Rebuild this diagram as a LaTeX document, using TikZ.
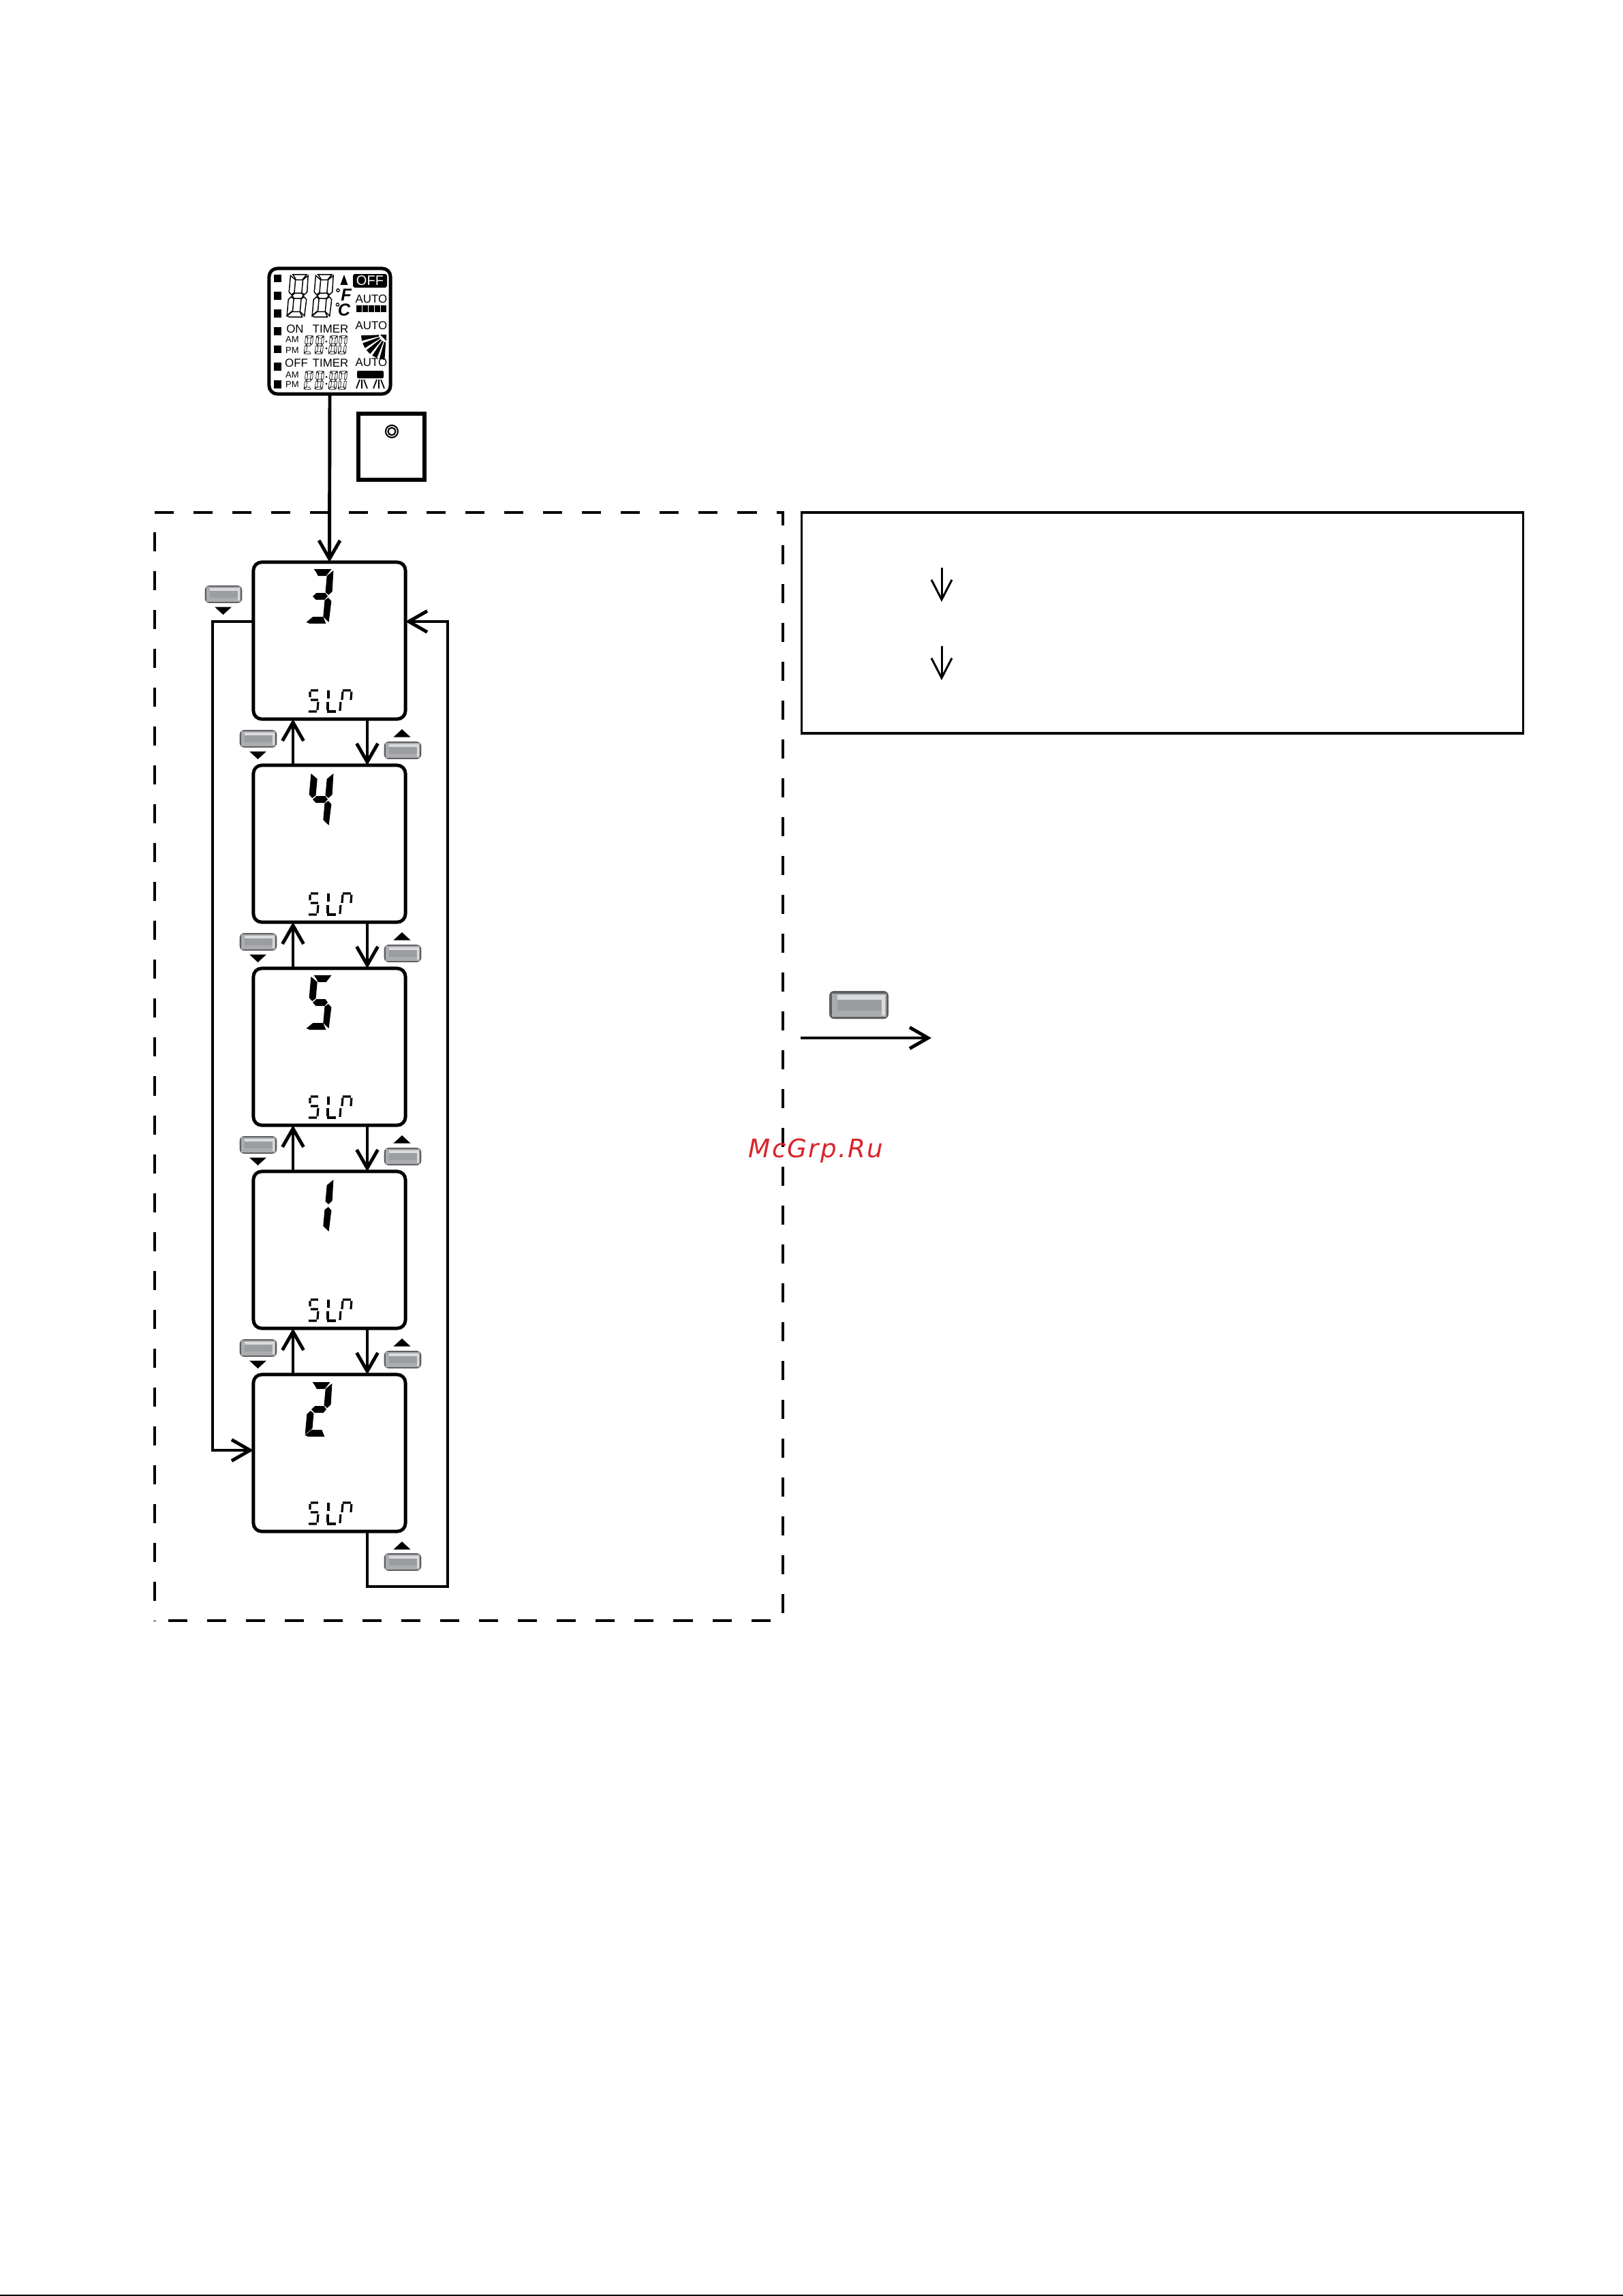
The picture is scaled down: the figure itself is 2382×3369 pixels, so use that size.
\documentclass[tikz,border=0pt]{standalone}
\usepackage{fontspec}
\setmainfont{Liberation Sans}
\newfontfamily\markfont[LetterSpace=6]{DejaVu Sans}
\usetikzlibrary{arrows.meta}

% segments of one big digit
\newcommand{\segA}{(-13,-40) -- (13,-40) -- (6,-30) -- (-6,-30) -- (-9,-35) -- cycle}
\newcommand{\segB}{(16,-38) -- (17,-7) -- (12,-2) -- (7,-6) -- (7,-30) -- cycle}
\newcommand{\segG}{(-11,0) -- (-6,-5) -- (7,-5) -- (11,0) -- (7,5) -- (-6,5) -- cycle}
\newcommand{\segC}{(12,2) -- (17,7) -- (16,38) -- (7,30) -- (7,6) -- cycle}
\newcommand{\segD}{(-17,38) -- (-8,30) -- (7,30) -- (12,40) -- (-12,40) -- cycle}
\newcommand{\segE}{(-12,2) -- (-7,6) -- (-7,28) -- (-17,37) -- (-17,7) -- cycle}
\newcommand{\segF}{(-17,-38) -- (-7,-30) -- (-7,-6) -- (-12,-2) -- (-17,-7) -- cycle}
\newcommand{\segdigit}[4][digitseg]{%
    \begin{scope}[shift={(#2)},scale=#3,xslant=.09]
        \foreach \s in {#4} {\path[#1] \csname seg\s\endcsname;}
    \end{scope}}

\tikzset{
    x=0.01cm, y=-0.01cm,
    >={Straight Barb[length=0.27cm,width=0.31cm,line width=1.4pt]},
    flow/.style={line width=1.4pt},
    lcdbox/.style={draw, line width=1.4pt, rounded corners=0.12cm, inner sep=0, outer sep=0},
    digitseg/.style={fill=black},
    hollowseg/.style={draw=black, line width=0.42pt},
    hollowsmall/.style={draw=black, line width=0.2pt},
    slpseg/.style={line width=0.9pt},
    lcdtext/.style={inner sep=0, font=\fontsize{4.8pt}{5pt}\selectfont},
    keybtn/.pic={
        \fill[keyedge] (-43.5,-20.5) [rounded corners=0.07cm] rectangle (43.5,20.5);
        \fill[keybody] (-40,-17) rectangle (40,17);
        \fill[keylight] (-32,-15) rectangle (38,-8);
        \fill[keylight] (33,-15) rectangle (38,15);
        \fill[keydark] (-32,-8) rectangle (33,8);
    },
    uptri/.pic={\fill (-12.5,5.5) -- (12.5,5.5) -- (0,-6) -- cycle;},
    downtri/.pic={\fill (-12.5,-5.5) -- (12.5,-5.5) -- (0,6) -- cycle;}
}
\definecolor{keyedge}{HTML}{5E5F61}
\definecolor{keybody}{HTML}{ABACAF}
\definecolor{keylight}{HTML}{DADBDC}
\definecolor{keydark}{HTML}{9C9D9F}
\definecolor{markred}{HTML}{D9232A}

\begin{document}
\begin{tikzpicture}
    \useasboundingbox (0,0) rectangle (2382,3369);

    % the full display
    \node[lcdbox, minimum width=1.78cm, minimum height=1.84cm] (lcdtop) at (484,486) {};
    \foreach \y in {408.5,434,460,486,512.5,538,564} {\fill (402,\y-5.7) rectangle (413,\y+5.7);}
    \segdigit[hollowseg]{437,434}{.78}{A,B,C,D,E,F,G}
    \segdigit[hollowseg]{474,434}{.78}{A,B,C,D,E,F,G}
    \fill (505,403) -- (510.5,418) -- (499.5,418) -- cycle;
    \node[lcdtext, font=\fontsize{7.2pt}{8pt}\selectfont\bfseries\itshape] (degf) at (508,433) {F};
    \node[lcdtext, font=\fontsize{7.2pt}{8pt}\selectfont\bfseries\itshape] (degc) at (505,455) {C};
    \draw[line width=0.35pt] (496,426) circle [radius=2.2] (495.5,447) circle [radius=2.2];
    \fill[rounded corners=0.03cm] (518,402) rectangle (568,422);
    \node[lcdtext, text=white, font=\fontsize{5.7pt}{6pt}\selectfont] (offtag) at (543,412) {OFF};
    \node[lcdtext] (autoa) at (545,439) {AUTO};
    \foreach \k in {0,...,4} {\fill (523+9*\k,448) rectangle (531+9*\k,458);}
    \node[lcdtext] (autob) at (545,478) {AUTO};
    \foreach \a in {172,154,136,118,100} {
        \fill[shift={(567,491)}] (\a-6:11) -- (\a-6:37) -- (\a+6:37) -- (\a+6:11) -- cycle;
    }
    \fill[shift={(567,491)}] (0,0) -- (0,9) -- (-9,0) -- cycle;
    \node[lcdtext] (autoc) at (545,532) {AUTO};
    \fill[rounded corners=0.02cm] (524,544) rectangle (563,555);
    \foreach \c in {531,556} {
        \draw[line width=0.5pt] (\c-3,557) -- (\c-8,570) (\c,557) -- (\c,570) (\c+3,557) -- (\c+8,570);
    }
    \node[lcdtext] (ontag) at (433,483) {ON};
    \node[lcdtext] (ontimer) at (485,483) {TIMER};
    \node[lcdtext] (offtimertag) at (435,533) {OFF};
    \node[lcdtext] (offtimer) at (485,533) {TIMER};
    \node[lcdtext, font=\fontsize{3.7pt}{4pt}\selectfont] (ama) at (429,498) {AM};
    \node[lcdtext, font=\fontsize{3.7pt}{4pt}\selectfont] (pma) at (429,514) {PM};
    \node[lcdtext, font=\fontsize{3.7pt}{4pt}\selectfont] (amb) at (429,550) {AM};
    \node[lcdtext, font=\fontsize{3.7pt}{4pt}\selectfont] (pmb) at (429,564) {PM};
    \foreach \y in {506,558} {
        \segdigit[hollowsmall]{453,\y}{.33}{A,B,D,E,F,G}
        \segdigit[hollowsmall]{469,\y}{.33}{A,B,C,D,E,F,G}
        \segdigit[hollowsmall]{489,\y}{.33}{A,B,C,D,E,F,G}
        \segdigit[hollowsmall]{503,\y}{.33}{A,B,C,D,E,F}
        \fill (479,\y-5) circle [radius=1.5] (479,\y+5) circle [radius=1.5];
    }

    % the small key
    \node[draw, line width=1.6pt, inner sep=0, outer sep=0, minimum width=0.97cm, minimum height=0.97cm] (powerbox) at (574.5,655.5) {};
    \draw[line width=0.6pt] (575,633) circle [radius=9] (575,633) circle [radius=5.5];

    % frame round the loop
    \coordinate (frametl) at (227,752);
    \coordinate (frametr) at (1149,752);
    \coordinate (framebr) at (1149,2378);
    \coordinate (framebl) at (227,2378);
    \draw[line width=1.4pt, dash pattern=on 0.28cm off 0.29cm] (frametl) -- (frametr) -- (framebr) -- (framebl);
    \draw[line width=1.4pt, dash pattern=on 0.28cm off 0.29cm, dash phase=0.28cm] (frametl) -- (framebl);

    % the five displays
    \foreach \n/\y in {3/940,4/1238,5/1536,1/1834,2/2132} {
        \node[lcdbox, minimum width=2.23cm, minimum height=2.30cm] (box\n) at (483.5,\y) {};
        \begin{scope}[shift={(box\n.north west)}]
            \draw[slpseg] (84,188) -- (95,188) (83,190) -- (83,198) (84,202) -- (95,202) (95,205) -- (94,217) (81,219) -- (93,219);
            \draw[slpseg] (110,188) -- (110,200) (109,205) -- (109,217) (108,219) -- (121,219);
            \draw[slpseg] (131,190) -- (130,202) (128,205) -- (127,218) (131,188) -- (143,188) (144,190) -- (143,202);
        \end{scope}
    }
    \segdigit{470,875}{1}{A,B,G,C,D}
    \segdigit{470,1173}{1}{F,B,G,C}
    \segdigit{470,1471}{1}{A,F,G,C,D}
    \segdigit{470,1769}{1}{B,C}
    \segdigit{468,2068}{1}{A,B,G,E,D}

    % keys beside the arrows
    \foreach \y in {940,1238,1536,1834} {
        \pic[scale=.63] at (379,\y+144) {keybtn};
        \pic at (378.5,\y+168) {downtri};
        \pic[scale=.63] at (591,\y+161) {keybtn};
        \pic at (590,\y+136) {uptri};
    }
    \pic[scale=.63] at (328,872) {keybtn};
    \pic at (327.5,896) {downtri};
    \pic[scale=.63] at (591,2292) {keybtn};
    \pic at (590,2268) {uptri};

    % arrows
    \coordinate (upx) at (430,0);
    \coordinate (downx) at (539,0);
    \coordinate (leftx) at (312,0);
    \coordinate (rightx) at (657,0);
    \coordinate (highy) at (0,912);
    \coordinate (lowy) at (0,2128);
    \coordinate (basey) at (0,2328);
    \draw[flow,->] (lcdtop.south) -- (box3.north);
    \foreach \a/\b in {3/4,4/5,5/1,1/2} {
        \draw[flow,->] (upx |- box\b.north) -- (upx |- box\a.south);
        \draw[flow,->] (downx |- box\a.south) -- (downx |- box\b.north);
    }
    \draw[flow,->] (box3.west |- highy) -- (leftx |- highy) -- (leftx |- lowy) -- (box2.west |- lowy);
    \draw[flow,->] (downx |- box2.south) -- (downx |- basey) -- (rightx |- basey) -- (rightx |- highy) -- (box3.east |- highy);

    % box on the right
    \node[draw, line width=1pt, inner sep=0, outer sep=0, minimum width=10.58cm, minimum height=3.24cm] (infobox) at (1706,914) {};
    \coordinate (stepa) at (1382,833);
    \coordinate (stepb) at (1382,883);
    \coordinate (stepc) at (1382,948);
    \coordinate (stepd) at (1382,998);
    \draw[line width=0.85pt, {-Straight Barb[length=0.29cm,width=0.30cm,line width=0.85pt]}] (stepa) -- (stepb);
    \draw[line width=0.85pt, {-Straight Barb[length=0.29cm,width=0.30cm,line width=0.85pt]}] (stepc) -- (stepd);

    % key and arrow on the right
    \pic at (1260.5,1474.5) {keybtn};
    \coordinate (nextfrom) at (1175,1523);
    \coordinate (nextto) at (1367,1523);
    \draw[flow,->] (nextfrom) -- (nextto);

    \node[anchor=base west, inner sep=0, text=markred, font=\fontsize{10.6pt}{12pt}\markfont\itshape] (mark) at (1098,1698) {McGrp.Ru};

    % edge of the scan
    \coordinate (edgea) at (0,3368);
    \coordinate (edgeb) at (2382,3368);
    \draw[line width=0.6pt] (edgea) -- (edgeb);
\end{tikzpicture}
\end{document}
